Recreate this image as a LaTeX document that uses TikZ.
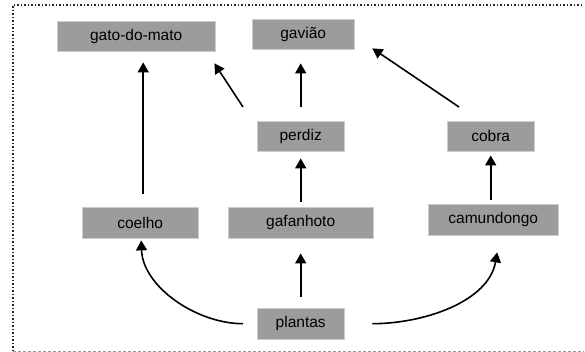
\documentclass[tikz,border=0pt]{standalone}
\usepackage{fontspec}
\setmainfont{Liberation Sans}
\usetikzlibrary{arrows.meta}
\definecolor{boxgray}{HTML}{9C9C9C}
\tikzset{
  species/.style={fill=boxgray, draw=black!20, line width=0.4pt, minimum height=30pt,
    inner sep=0pt, font=\fontsize{15.5}{18}\selectfont, anchor=north west},
  arr/.style={line width=1.6pt, -{Triangle[length=10pt,width=11pt]}},
}
\begin{document}
\begin{tikzpicture}[x=1pt,y=-1pt]
  \useasboundingbox (0,0) rectangle (585,352);
  % frame
  \draw[black!85, line width=1.3pt, dash pattern=on 1.5pt off 2pt] (582,5) -- (13,5) -- (13,351);
  \draw[black!40, line width=0.8pt, dash pattern=on 2.5pt off 2.5pt] (13,351) -- (584,351);

  % species boxes
  \node[species, minimum width=158pt] (gato) at (57,21) {gato-do-mato};
  \node[species, minimum width=102pt] (gaviao) at (252,19) {gavião};
  \node[species, minimum width=87pt]  (perdiz) at (257,121) {perdiz};
  \node[species, minimum width=87pt]  (cobra) at (447,121) {cobra};
  \node[species, minimum width=116pt, minimum height=31pt] (coelho) at (82,207) {coelho};
  \node[species, minimum width=145pt, minimum height=31pt] (gafanhoto) at (228,207) {gafanhoto};
  \node[species, minimum width=130pt, minimum height=31pt] (camundongo) at (428,204) {camundongo};
  \node[species, minimum width=87pt, minimum height=31pt]  (plantas) at (257,308) {plantas};

  % feeding links
  \draw[arr, shorten <=13pt, shorten >=11pt]
    ([xshift=3pt]coelho.north) -- ([xshift=3pt]coelho.north |- gato.south);
  \draw[arr] ([shift={(-14pt,14pt)}]perdiz.north west) -- ([shift={(-1pt,-12pt)}]gato.south east);
  \draw[arr, shorten <=14pt, shorten >=14pt]
    (perdiz.north) -- (perdiz.north |- gaviao.south);
  \draw[arr] ([shift={(12pt,14pt)}]cobra.north west) -- ([shift={(18pt,1pt)}]gaviao.south east);
  \draw[arr, shorten <=5pt, shorten >=7pt]
    (gafanhoto.north -| perdiz.north) -- (perdiz.south);
  \draw[arr, shorten <=4pt, shorten >=4pt]
    (camundongo.north -| cobra.south) -- (cobra.south);
  \draw[arr, shorten <=11pt, shorten >=15pt]
    (plantas.north) -- (plantas.north |- gafanhoto.south);
  \draw[arr] ([xshift=-14pt]plantas.west) to[out=180, in=-88, looseness=0.9]
    ([shift={(1pt,-2pt)}]coelho.south);
  \draw[arr] ([xshift=28pt]plantas.east) to[out=0, in=-100, looseness=0.9]
    ([shift={(4pt,-17pt)}]camundongo.south);
\end{tikzpicture}
\end{document}
